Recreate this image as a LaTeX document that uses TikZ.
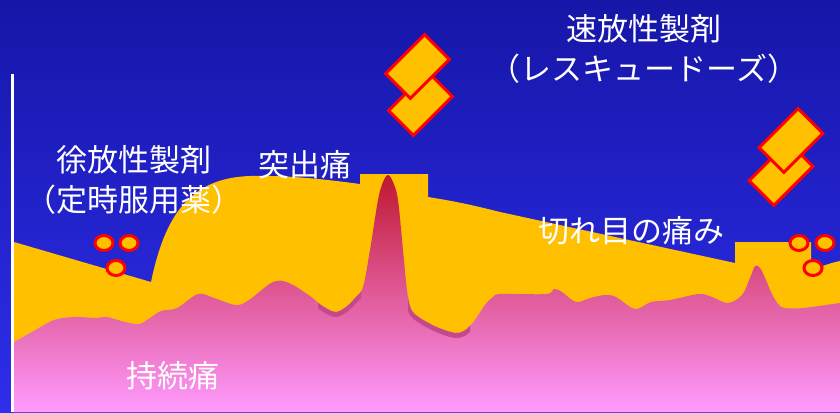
\documentclass[tikz,border=0pt]{standalone}
\usepackage{fontspec}
\usetikzlibrary{shapes.geometric}
\newfontfamily\jp{Noto Sans CJK JP}
\definecolor{bgtop}{RGB}{22,22,168}
\definecolor{bgbot}{RGB}{46,46,236}
\definecolor{gold}{RGB}{255,192,0}
\definecolor{pinktop}{RGB}{192,24,48}
\definecolor{pinkmid}{RGB}{222,100,178}
\definecolor{pinkbot}{RGB}{255,155,255}
\definecolor{fringe}{RGB}{196,72,140}
\tikzset{pinkedge/.style={insert path={-- plot[smooth,tension=0.55] coordinates {(14,342) (32,332) (54,320) (75,317) (96,318) (107,317) (125,322) (139,324) (150,318) (161,311) (177,308) (198,294) (214,298) (236,305) (249,300) (273,282) (289,283) (310,296) (321,305) (335,312) (346,307) (355,298) (363,287) (370,250) (378,200) (383,182) (388,175) (393,182) (398,200) (403,250) (407,290) (411,309) (420,318) (439,328) (458,333) (471,325) (485,305) (493,297) (501,294) (546,294) (554,289) (562,292) (576,302) (590,298) (605,295) (616,297) (635,309) (651,302) (670,300) (699,294) (712,297) (728,303) (742,295) (750,278) (755,266) (760,268) (766,280) (771,292) (778,304) (785,308) (803,308) (840,303)}}}}
\begin{document}
\begin{tikzpicture}[x=1pt,y=-1pt,
  lbl/.style={text=white,font=\jp\fontsize{31}{40}\selectfont,align=center,inner sep=0pt},
  pill/.style={draw=red,line width=3pt,fill=gold,rectangle,minimum width=55pt,minimum height=35pt,inner sep=0pt,rotate=45},
  dose/.style={draw=red,line width=3pt,fill=gold,ellipse,minimum width=18pt,minimum height=15pt,inner sep=0pt}]
\useasboundingbox (0,0) rectangle (840,412);
\clip (0,0) rectangle (840,412);
% background
\shade[top color=bgtop,bottom color=bgbot] (0,0) rectangle (840,412);
% yellow region (pain covered by medication)
\fill[gold] (14,412) -- (14,242) -- (151,282) .. controls (165,215) and (190,178) .. (250,176) .. controls (290,175) and (330,180) .. (360,184) -- (360,174) -- (428,174) -- (428,197) .. controls (460,202) and (480,207) .. (500,212) -- (735,263) -- (735,242) -- (811,242) -- (811,271) .. controls (822,266) and (830,263) .. (840,261) -- (840,412) -- cycle;
% pink pain region
\shade[top color=pinktop,middle color=pinkmid,bottom color=pinkbot] (14,412) [pinkedge] -- (840,412) -- cycle;
% darker fringe under the yellow edge
\begin{scope}
  \clip (14,412) [pinkedge] -- (840,412) -- cycle;
  \clip (318,250) rectangle (361,330) (408,290) rectangle (470,345);
  \begin{scope}[yshift=-2.5pt]
    \draw[fringe,line width=5pt] (14,342) [pinkedge];
  \end{scope}
\end{scope}
% axis line
\coordinate (axtop) at (12,74);
\coordinate (axbot) at (12,412);
\draw[white,line width=3pt] (axtop) -- (axbot);
% sustained-release doses
\node[dose] (d1) at (104,243) {};
\node[dose] (d2) at (129,243) {};
\node[dose] (d3) at (116,268) {};
\node[dose] (d4) at (799,243) {};
\node[dose] (d5) at (825,243) {};
\node[dose] (d6) at (813,268) {};
% rescue doses
\node[pill] (p2) at (420.5,103.5) {};
\node[pill] (p1) at (417.5,66.5) {};
\node[pill] (p4) at (781,173.5) {};
\node[pill] (p3) at (791,140.5) {};
% labels
\node[lbl] (slow) at (134,180) {徐放性製剤\\（定時服用薬）};
\node[lbl] (fast) at (644,49) {速放性製剤\\（レスキュードーズ）};
\node[lbl] (btp) at (305,165) {突出痛};
\node[lbl] (eod) at (631,231) {切れ目の痛み};
\node[lbl] (persist) at (173,376) {持続痛};
\end{tikzpicture}
\end{document}
